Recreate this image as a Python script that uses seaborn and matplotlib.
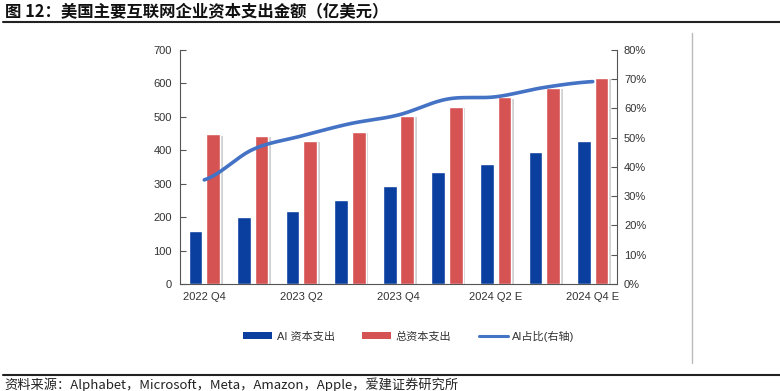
import numpy as np
import pandas as pd
import matplotlib
matplotlib.use("Agg")
import matplotlib.pyplot as plt
import matplotlib.patheffects as pe
from matplotlib.lines import Line2D
from matplotlib.patches import Patch
import seaborn as sns

quarters = ["2022 Q4", "2023 Q1", "2023 Q2", "2023 Q3", "2023 Q4",
            "2024 Q1 E", "2024 Q2 E", "2024 Q3 E", "2024 Q4 E"]
tick_labels = ["2022 Q4", "", "2023 Q2", "", "2023 Q4", "", "2024 Q2 E", "", "2024 Q4 E"]
ai_capex = [160, 201, 217, 251, 292, 336, 359, 395, 427]
total_capex = [448, 444, 428, 456, 503, 530, 558, 586, 617]
ai_share = [35.6, 46.0, 50.6, 54.8, 57.8, 63.2, 64.0, 67.2, 69.2]
series_names = ["AI 资本支出", "总资本支出", "AI占比(右轴)"]
title = "图 12：美国主要互联网企业资本支出金额（亿美元）"
source = "资料来源：Alphabet，Microsoft，Meta，Amazon，Apple，爱建证券研究所"

sns.set_theme(style="white")
plt.rcParams["font.family"] = ["Liberation Sans", "Noto Sans CJK SC", "DejaVu Sans"]

blue = "#0A3FA0"
red = "#D65353"
line_c = "#4472C4"
txt = "#333333"

df = pd.DataFrame({
    "q": quarters * 2,
    "v": ai_capex + total_capex,
    "s": [series_names[0]] * 9 + [series_names[1]] * 9,
})

fig = plt.figure(figsize=(7.8, 3.91), dpi=100)
ax = fig.add_axes([180 / 780, 1 - 284 / 391, (617 - 180) / 780, (284 - 50) / 391])

sns.barplot(data=df, x="q", y="v", hue="s", palette=[blue, red], ax=ax,
            width=0.72, gap=0.22, legend=False, saturation=1)

for p in ax.patches:
    if p.get_facecolor()[0] > 0.5:
        p.set_path_effects([pe.SimplePatchShadow(offset=(2, -1), shadow_rgbFace="#999999", alpha=0.45),
                            pe.Normal()])

ax.set_xlim(-0.5, 8.5)
ax.set_ylim(0, 700)
ax.set_yticks(range(0, 701, 100))
ax.set_xticks(np.arange(9))
ax.set_xticklabels(tick_labels)
ax.set_xticks(np.arange(-0.5, 9, 1), minor=True)
ax.tick_params(axis="x", which="major", length=0, labelsize=8, labelcolor=txt, pad=6)
ax.tick_params(axis="x", which="minor", direction="in", length=4, color="#555555", width=0.8)
ax.tick_params(axis="y", direction="in", length=4, color="#555555", width=0.8,
               labelsize=8, labelcolor=txt, pad=6)
ax.set_xlabel("")
ax.set_ylabel("")
for s in ["top", "right"]:
    ax.spines[s].set_visible(False)
for s in ["left", "bottom"]:
    ax.spines[s].set_color("#555555")
    ax.spines[s].set_linewidth(0.8)

ax2 = ax.twinx()
# smooth curve through the data points (Catmull-Rom)
xp = np.arange(9, dtype=float)
yp = np.array(ai_share, dtype=float)
xs, ys = [], []
for i in range(8):
    p0 = yp[max(i - 1, 0)]; p1 = yp[i]; p2 = yp[i + 1]; p3 = yp[min(i + 2, 8)]
    t = np.linspace(0, 1, 20, endpoint=(i == 7))
    y = 0.5 * ((2 * p1) + (-p0 + p2) * t + (2 * p0 - 5 * p1 + 4 * p2 - p3) * t ** 2
               + (-p0 + 3 * p1 - 3 * p2 + p3) * t ** 3)
    xs.append(xp[i] + t); ys.append(y)
sm = pd.DataFrame({"x": np.concatenate(xs), "y": np.concatenate(ys)})
sns.lineplot(data=sm, x="x", y="y", ax=ax2, color=line_c, linewidth=2.6, sort=False)
ax2.set_ylim(0, 80)
ax2.set_yticks(range(0, 81, 10))
ax2.set_yticklabels([f"{v}%" for v in range(0, 81, 10)])
ax2.tick_params(axis="y", direction="in", length=4, color="#555555", width=0.8,
                labelsize=8, labelcolor=txt, pad=5)
ax2.set_xlim(-0.5, 8.5)
ax2.set_xlabel("")
ax2.set_ylabel("")
for s in ["top", "left", "bottom"]:
    ax2.spines[s].set_visible(False)
ax2.spines["right"].set_color("#555555")
ax2.spines["right"].set_linewidth(0.8)

handles = [Patch(facecolor=blue, edgecolor="none"),
           Patch(facecolor=red, edgecolor="none"),
           Line2D([], [], color=line_c, lw=2.2)]
fig.legend(handles, series_names, loc="center", bbox_to_anchor=(409 / 780, 1 - 336 / 391),
           ncol=3, frameon=False, fontsize=8, columnspacing=2.5, handlelength=2.6,
           handleheight=0.55, handletextpad=0.4, labelcolor=txt)

fig.text(5 / 780, 1 - 12 / 391, title, fontsize=11.8, fontweight="bold", va="center", ha="left",
         color="#111111", family=["Noto Sans CJK SC", "DejaVu Sans"])
fig.add_artist(Line2D([3 / 780, 1], [1 - 22 / 391] * 2, color="#222222", lw=1.5))
fig.add_artist(Line2D([691.5 / 780] * 2, [1 - 33 / 391, 1 - 363 / 391], color="#BBBBBB", lw=1))
fig.add_artist(Line2D([3 / 780, 1], [1 - 375 / 391] * 2, color="#222222", lw=1.5))
fig.text(4 / 780, 1 - 377.5 / 391, source, fontsize=9.5, va="top", ha="left", color="#222222",
         family=["Noto Sans CJK SC", "DejaVu Sans"])

fig.savefig("out.png", dpi=100)
